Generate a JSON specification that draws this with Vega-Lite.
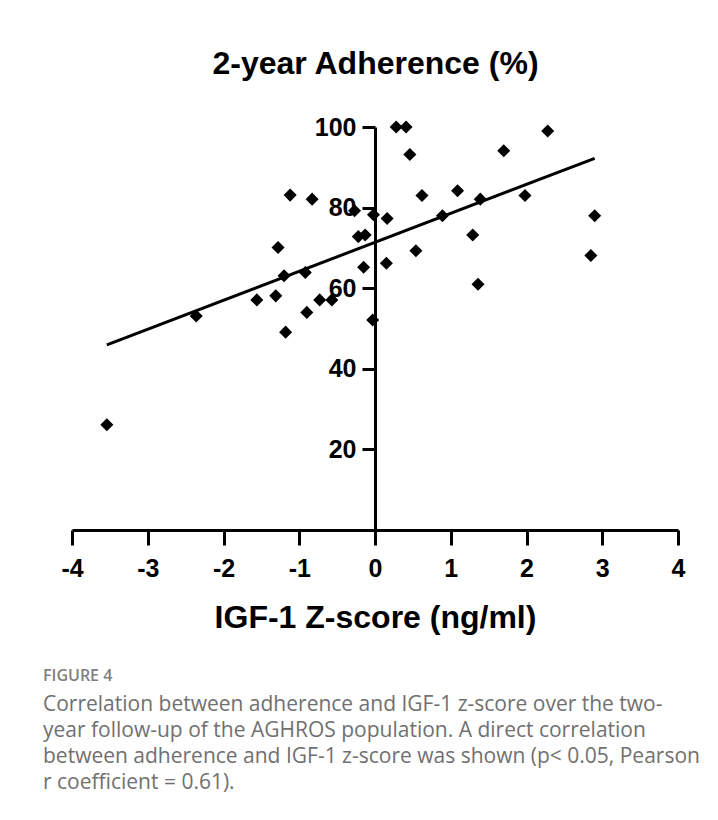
{
  "$schema": "https://vega.github.io/schema/vega-lite/v6.json",
  "width": 606,
  "height": 403,
  "autosize": {"type": "none"},
  "padding": {"left": 72, "top": 127, "right": 40, "bottom": 290},
  "background": "white",
  "config": {
    "view": {"stroke": null},
    "font": "Liberation Sans"
  },
  "title": {
    "text": "FIGURE 4",
    "subtitle": [
      "Correlation between adherence and IGF-1 z-score over the two-",
      "year follow-up of the AGHROS population. A direct correlation",
      "between adherence and IGF-1 z-score was shown (p< 0.05, Pearson",
      "r coefficient = 0.61)."
    ],
    "orient": "bottom",
    "anchor": "start",
    "frame": "group",
    "dx": -29,
    "offset": 35,
    "font": "Open Sans",
    "fontSize": 16,
    "fontWeight": 600,
    "color": "#808080",
    "subtitleFont": "Open Sans",
    "subtitleFontSize": 21,
    "subtitleColor": "#707070",
    "subtitleLineHeight": 26,
    "subtitlePadding": 10
  },
  "data": {
    "values": [
      {"z": -3.54, "adh": 26.1},
      {"z": -2.36, "adh": 53.1},
      {"z": -1.56, "adh": 57.1},
      {"z": -1.31, "adh": 58.1},
      {"z": -1.28, "adh": 70.1},
      {"z": -1.20, "adh": 63.1},
      {"z": -1.18, "adh": 49.1},
      {"z": -1.12, "adh": 83.1},
      {"z": -0.92, "adh": 63.9},
      {"z": -0.90, "adh": 54.0},
      {"z": -0.83, "adh": 82.1},
      {"z": -0.73, "adh": 57.1},
      {"z": -0.57, "adh": 57.1},
      {"z": -0.27, "adh": 79.2},
      {"z": -0.22, "adh": 72.8},
      {"z": -0.13, "adh": 73.2},
      {"z": -0.15, "adh": 65.2},
      {"z": -0.03, "adh": 52.1},
      {"z": -0.02, "adh": 78.2},
      {"z": 0.16, "adh": 77.3},
      {"z": 0.15, "adh": 66.2},
      {"z": 0.28, "adh": 100},
      {"z": 0.41, "adh": 100},
      {"z": 0.46, "adh": 93.2},
      {"z": 0.54, "adh": 69.3},
      {"z": 0.62, "adh": 83.0},
      {"z": 0.89, "adh": 78.0},
      {"z": 1.09, "adh": 84.2},
      {"z": 1.29, "adh": 73.2},
      {"z": 1.36, "adh": 61.0},
      {"z": 1.39, "adh": 82.1},
      {"z": 1.70, "adh": 94.1},
      {"z": 1.98, "adh": 83.0},
      {"z": 2.28, "adh": 99.0},
      {"z": 2.85, "adh": 68.1},
      {"z": 2.90, "adh": 78.0}
    ]
  },
  "encoding": {
    "x": {
      "field": "z",
      "type": "quantitative",
      "scale": {"domain": [-4, 4], "nice": false, "zero": false},
      "axis": {
        "title": "IGF-1 Z-score (ng/ml)",
        "values": [-4, -3, -2, -1, 0, 1, 2, 3, 4],
        "labelExpr": "'' + datum.value",
        "grid": false,
        "domainColor": "black",
        "domainWidth": 3,
        "tickColor": "black",
        "tickWidth": 3,
        "tickSize": 15,
        "labelFont": "Liberation Sans",
        "labelFontSize": 25,
        "labelFontWeight": "bold",
        "labelColor": "black",
        "labelPadding": 11,
        "labelFlush": false,
        "labelOverlap": false,
        "titleFont": "Liberation Sans",
        "titleFontSize": 32,
        "titleFontWeight": "bold",
        "titleColor": "black",
        "titleBaseline": "alphabetic",
        "titleY": 97
      }
    },
    "y": {
      "field": "adh",
      "type": "quantitative",
      "scale": {"domain": [0, 100], "nice": false},
      "axis": {
        "title": "2-year Adherence (%)",
        "values": [20, 40, 60, 80, 100],
        "offset": -303,
        "grid": false,
        "domainColor": "black",
        "domainWidth": 3,
        "tickColor": "black",
        "tickWidth": 3,
        "tickSize": 13,
        "labelFont": "Liberation Sans",
        "labelFontSize": 25,
        "labelFontWeight": "bold",
        "labelColor": "black",
        "labelPadding": 6,
        "labelOverlap": false,
        "titleFont": "Liberation Sans",
        "titleFontSize": 32,
        "titleFontWeight": "bold",
        "titleColor": "black",
        "titleAngle": 0,
        "titleAlign": "center",
        "titleBaseline": "alphabetic",
        "titleX": 0,
        "titleY": -54
      }
    }
  },
  "layer": [
    {
      "mark": {"type": "point", "shape": "diamond", "filled": true, "color": "black", "size": 170, "opacity": 1}
    },
    {
      "transform": [{"regression": "adh", "on": "z"}],
      "mark": {"type": "line", "color": "black", "strokeWidth": 3}
    }
  ]
}
